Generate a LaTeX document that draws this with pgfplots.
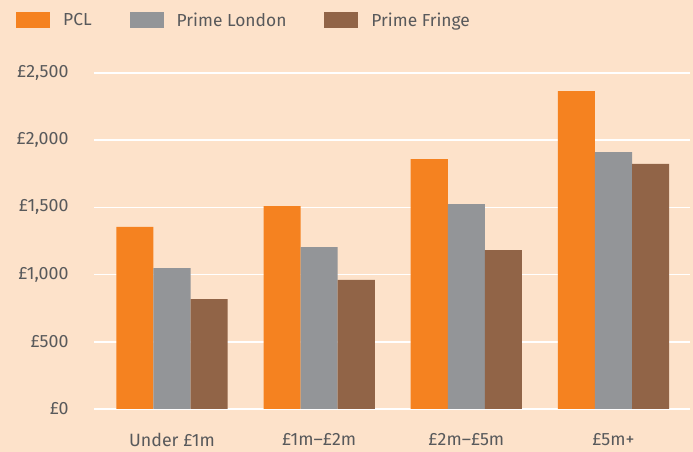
\documentclass[border=0pt]{standalone}
\usepackage{pgfplots}
\pgfplotsset{compat=1.18}
\usepackage{fontspec}
\setmainfont{Fira Sans}
\definecolor{bg}{HTML}{FDE2CA}
\definecolor{pcl}{HTML}{F58220}
\definecolor{pl}{HTML}{939598}
\definecolor{pf}{HTML}{916447}
\definecolor{txt}{HTML}{58595B}
\pgfdeclarelayer{background}
\pgfsetlayers{background,main}
\begin{document}
\begin{tikzpicture}
\begin{axis}[
  name=ax,
  at={(0,0)}, anchor=south west,
  scale only axis,
  width=596pt, height=336pt,
  ybar=0pt, bar width=0.252,
  xmin=-0.53, xmax=3.52,
  ymin=0, ymax=2500,
  xtick={0,1,2,3},
  xticklabels={Under £1m, £1m–£2m, £2m–£5m, £5m+},
  ytick={0,500,1000,1500,2000,2500},
  yticklabels={{£0},{£500},{£1,000},{£1,500},{£2,000},{£2,500}},
  axis line style={draw=none},
  major tick length=0pt,
  ymajorgrids, grid style={white, line width=1.6pt},
  tick label style={text=txt, font=\fontsize{17.8}{19}\selectfont},
  yticklabel style={xshift=-22pt},
  xticklabel style={yshift=-21pt},
  legend columns=3,
  legend style={draw=none, fill=none, at={(-81pt,389pt)}, anchor=west,
    text=txt, font=\fontsize{17.4}{19}\selectfont,
    /tikz/every even column/.append style={column sep=38pt},
    nodes={inner sep=0pt, anchor=west}},
  legend image code/.code={\fill[#1] (0pt,-8pt) rectangle (34pt,8pt); \path (47pt,0pt);},
]
\addplot[draw=none, fill=pcl] coordinates {(0,1355) (1,1510) (2,1860) (3,2366)};
\addplot[draw=none, fill=pl] coordinates {(0,1049) (1,1205) (2,1525) (3,1912)};
\addplot[draw=none, fill=pf] coordinates {(0,818) (1,960) (2,1183) (3,1823)};
\legend{PCL, Prime London, Prime Fringe}
\end{axis}
\begin{pgfonlayer}{background}
\fill[bg] (-94pt,-43pt) rectangle (599pt,409pt);
\end{pgfonlayer}
\end{tikzpicture}
\end{document}
